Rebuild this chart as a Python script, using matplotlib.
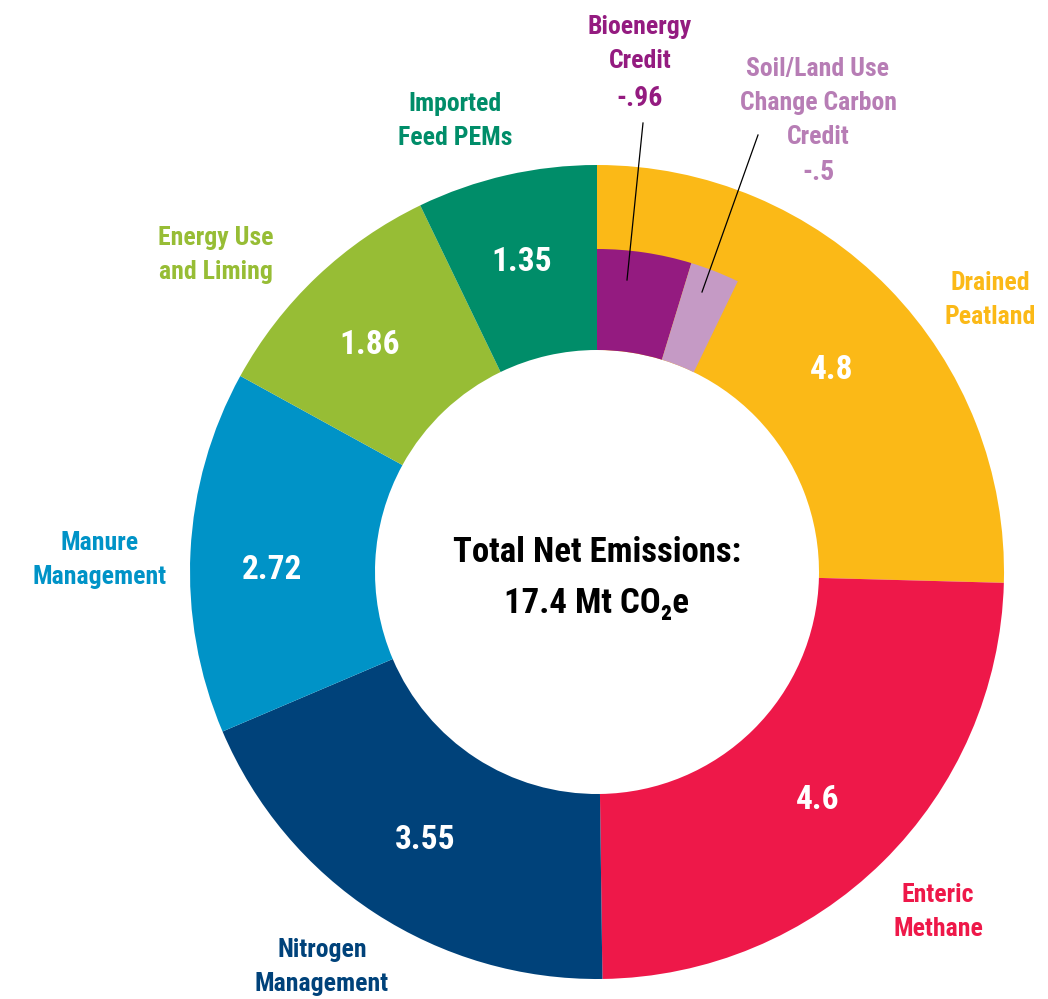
import matplotlib
matplotlib.use("Agg")
import matplotlib.pyplot as plt
from matplotlib import font_manager

# emissions by source, Mt CO2e (clockwise from the top)
sources = ["Drained\nPeatland", "Enteric\nMethane", "Nitrogen\nManagement",
           "Manure\nManagement", "Energy Use\nand Liming", "Imported\nFeed PEMs"]
values = [4.8, 4.6, 3.55, 2.72, 1.86, 1.35]
value_text = ["4.8", "4.6", "3.55", "2.72", "1.86", "1.35"]
colors = ["#FBB917", "#EE1849", "#00427A", "#0093C7", "#97BD35", "#008D69"]

credits = ["Bioenergy\nCredit", "Soil/Land Use\nChange Carbon\nCredit"]
credit_values = [0.96, 0.5]
credit_text = ["-.96", "-.5"]
credit_colors = ["#941B80", "#C59AC5"]

net_total = sum(values) - sum(credit_values)

avail = {f.name for f in font_manager.fontManager.ttflist}
fams = [f for f in ["Liberation Sans Narrow", "Roboto Condensed", "Roboto", "DejaVu Sans"] if f in avail]
plt.rcParams["font.family"] = fams

W, H = 1048, 999
fig = plt.figure(figsize=(W / 100, H / 100), dpi=100)
ax = fig.add_axes([0, 0, 1, 1])

cx, cy = 597, 572          # centre in pixel coords (y down)
r_out, r_in, r_credit = 407, 222, 323

def Y(py):
    return H - py

ax.pie(values, colors=colors, startangle=90, counterclock=False,
       radius=r_out, center=(cx, Y(cy)),
       wedgeprops=dict(width=r_out - r_in, linewidth=0))

# credits drawn as a smaller inner ring inside the peatland wedge
scale = sum(values) + sum(credit_values)
ax.pie([v / scale for v in credit_values], colors=credit_colors, normalize=False,
       startangle=90, counterclock=False, radius=r_credit, center=(cx, Y(cy)),
       wedgeprops=dict(width=r_credit - r_in, linewidth=0))

ax.set_xlim(0, W)
ax.set_ylim(0, H)
ax.set_aspect("equal")
ax.axis("off")

# values inside the ring
value_pos = [(832, 370), (818, 800), (425, 840), (272, 570), (370, 345), (522, 262)]
for t, (x, y) in zip(value_text, value_pos):
    ax.text(x, Y(y), t, color="white", fontsize=24, fontweight="bold",
            ha="center", va="center")

# outer labels
label_pos = [(990, 300), (938, 912), (322, 967), (100, 560), (216, 255), (455, 121)]
for lab, (x, y), c in zip(sources, label_pos, colors):
    ax.text(x, Y(y), lab, color=c, fontsize=18.5, fontweight="bold",
            ha="center", va="center", linespacing=1.55)

# credit labels with leader lines
ax.text(640, Y(44), credits[0], color=credit_colors[0], fontsize=18.5,
        fontweight="bold", ha="center", va="center", linespacing=1.55)
ax.text(640, Y(98), credit_text[0], color=credit_colors[0], fontsize=20,
        fontweight="bold", ha="center", va="center")
ax.text(818, Y(103), credits[1], color="#B77DB5", fontsize=18.5,
        fontweight="bold", ha="center", va="center", linespacing=1.55)
ax.text(818, Y(172), credit_text[1], color="#B77DB5", fontsize=20,
        fontweight="bold", ha="center", va="center")
ax.plot([643, 627], [Y(123), Y(280)], color="black", lw=0.9)
ax.plot([758, 702], [Y(135), Y(292)], color="black", lw=0.9)

# centre text
ax.text(cx, Y(553), "Total Net Emissions:", fontsize=25, fontweight="bold",
        ha="center", va="center", color="black")
ax.text(cx, Y(603), "%.1f Mt CO\u2082e" % net_total, fontsize=25, fontweight="bold",
        ha="center", va="center", color="black")

fig.savefig("out.png", dpi=100)
